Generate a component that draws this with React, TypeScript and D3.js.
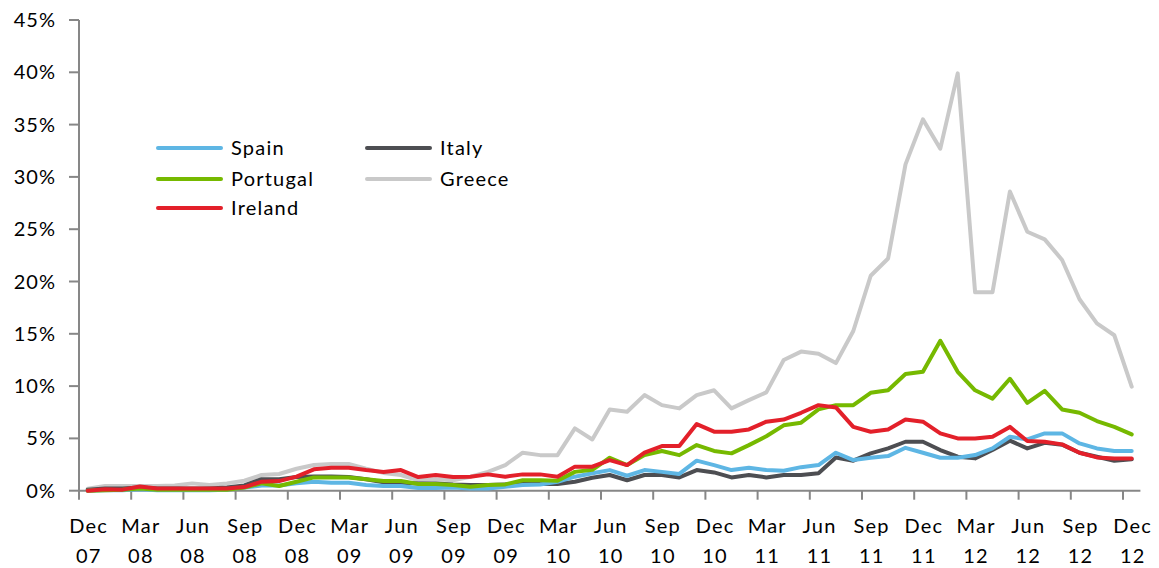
import React from "react";
import * as d3 from "d3";

const tickLabels = [
  ["Dec", "07"], ["Mar", "08"], ["Jun", "08"], ["Sep", "08"], ["Dec", "08"],
  ["Mar", "09"], ["Jun", "09"], ["Sep", "09"], ["Dec", "09"], ["Mar", "10"],
  ["Jun", "10"], ["Sep", "10"], ["Dec", "10"], ["Mar", "11"], ["Jun", "11"],
  ["Sep", "11"], ["Dec", "11"], ["Mar", "12"], ["Jun", "12"], ["Sep", "12"],
  ["Dec", "12"],
];

// monthly categories Dec 2007 .. Dec 2012
const categories = d3.timeMonth.range(new Date(2007, 11, 1), new Date(2013, 0, 1));

const spain = [
  0.0, 0.05, 0.05, 0.15, 0.05, 0.05, 0.05, 0.05, 0.1, 0.3,
  0.5, 0.5, 0.7, 0.85, 0.75, 0.75, 0.55, 0.45, 0.45, 0.25,
  0.25, 0.3, 0.22, 0.22, 0.38, 0.54, 0.6, 0.86, 1.34, 1.66,
  1.97, 1.43, 1.97, 1.8, 1.6, 2.87, 2.45, 1.97, 2.2, 1.97,
  1.9, 2.25, 2.45, 3.63, 2.93, 3.15, 3.31, 4.1, 3.63, 3.15,
  3.15, 3.41, 4.04, 5.16, 4.9, 5.48, 5.48, 4.52, 4.04, 3.79,
  3.79,
];
const italy = [
  0.1, 0.2, 0.2, 0.3, 0.2, 0.2, 0.2, 0.2, 0.3, 0.5,
  1.1, 1.1, 1.3, 1.35, 1.35, 1.3, 1.1, 0.8, 0.75, 0.7,
  0.7, 0.6, 0.55, 0.55, 0.6, 0.64, 0.64, 0.64, 0.86, 1.24,
  1.5, 1.0, 1.5, 1.5, 1.27, 1.97, 1.75, 1.27, 1.5, 1.27,
  1.5, 1.5, 1.66, 3.18, 2.87, 3.57, 4.04, 4.68, 4.68, 3.89,
  3.25, 3.09, 3.89, 4.78, 4.04, 4.58, 4.4, 3.63, 3.25, 2.87,
  3.0,
];
const portugal = [
  0.0, 0.05, 0.1, 0.2, 0.1, 0.1, 0.1, 0.1, 0.1, 0.3,
  0.7, 0.45, 0.85, 1.27, 1.27, 1.27, 1.1, 0.92, 0.92, 0.64,
  0.64, 0.55, 0.38, 0.54, 0.6, 1.0, 1.0, 0.96, 1.8, 2.0,
  3.15, 2.45, 3.4, 3.8, 3.4, 4.36, 3.8, 3.57, 4.36, 5.2,
  6.25, 6.5, 7.77, 8.18, 8.18, 9.36, 9.6, 11.15, 11.37, 14.33,
  11.37, 9.6, 8.8, 10.7, 8.4, 9.55, 7.77, 7.45, 6.66, 6.1,
  5.38,
];
const greece = [
  0.2, 0.45, 0.45, 0.45, 0.45, 0.5, 0.7, 0.55, 0.7, 0.95,
  1.5, 1.6, 2.1, 2.45, 2.55, 2.55, 2.1, 1.7, 1.5, 1.0,
  1.1, 1.0, 1.34, 1.8, 2.45, 3.63, 3.4, 3.4, 5.96, 4.9,
  7.77, 7.55, 9.14, 8.18, 7.87, 9.14, 9.6, 7.87, 8.66, 9.4,
  12.5, 13.3, 13.1, 12.2, 15.27, 20.55, 22.2, 31.2, 35.5, 32.7,
  39.9, 18.97, 18.97, 28.6, 24.76, 24.03, 22.06, 18.3, 16.0, 14.86,
  9.94,
];
const ireland = [
  0.0, 0.13, 0.1, 0.4, 0.2, 0.2, 0.2, 0.2, 0.2, 0.35,
  0.86, 0.92, 1.34, 2.04, 2.2, 2.2, 1.97, 1.78, 1.97, 1.3,
  1.5, 1.3, 1.34, 1.56, 1.34, 1.56, 1.56, 1.34, 2.3, 2.3,
  2.93, 2.45, 3.63, 4.27, 4.27, 6.37, 5.64, 5.64, 5.86, 6.6,
  6.8, 7.45, 8.18, 7.96, 6.1, 5.64, 5.86, 6.8, 6.6, 5.48,
  5.0, 5.0, 5.16, 6.1, 4.75, 4.68, 4.43, 3.63, 3.18, 3.09,
  3.09,
];

const yTicks = [0, 5, 10, 15, 20, 25, 30, 35, 40, 45];

const seriesNames = ["Spain", "Italy", "Portugal", "Greece", "Ireland"];
const seriesColors = ["#5eb6e4", "#4d4e52", "#76b900", "#c9c9c9", "#e3202a"];
const seriesValues = [spain, italy, portugal, greece, ireland];
// drawing order (bottom to top)
const drawOrder = ["Greece", "Italy", "Spain", "Portugal", "Ireland"];

const W = 1159;
const H = 568;
const left = 79;
const right = 1140.4;
const top = 20;
const bottom = 490.7;
const axisColor = "#878787";
const font = "Lato, 'Open Sans', sans-serif";

export default function App() {
  const idx = categories.map((_, i) => i);
  const x = d3.scalePoint<number>().domain(idx).range([left, right]).padding(0.5);
  const step = x.step();
  const y = d3.scaleLinear().domain([0, 45]).range([bottom, top]);
  const line = d3
    .line<number>()
    .x((_, i) => x(i) as number)
    .y((d) => y(d));

  const xTickPositions = d3.range(0, categories.length, 3).map((i) => left + i * step);

  const legendItems = [
    { name: "Spain", col: 0, row: 0 },
    { name: "Italy", col: 1, row: 0 },
    { name: "Portugal", col: 0, row: 1 },
    { name: "Greece", col: 1, row: 1 },
    { name: "Ireland", col: 0, row: 2 },
  ];
  const legendX = [158, 367];
  const legendY = [148, 179, 208];

  return (
    <svg
      width={W}
      height={H}
      style={{ position: "absolute", left: 0, top: 0, background: "#fff" }}
      fontFamily={font}
    >
      {/* y axis */}
      <line x1={left} x2={left} y1={top} y2={bottom} stroke={axisColor} strokeWidth={2} />
      {yTicks.map((t) => (
        <g key={t}>
          <line x1={left - 10} x2={left} y1={y(t)} y2={y(t)} stroke={axisColor} strokeWidth={2} />
          <text
            x={56}
            y={y(t)}
            dy="0.35em"
            textAnchor="end"
            fontSize={20}
            letterSpacing={1}
            fill="#000"
          >
            {t}%
          </text>
        </g>
      ))}
      {/* x axis */}
      <line x1={left} x2={right} y1={bottom} y2={bottom} stroke={axisColor} strokeWidth={2} />
      {xTickPositions.map((p, k) => (
        <line key={k} x1={p} x2={p} y1={bottom} y2={bottom + 9} stroke={axisColor} strokeWidth={2} />
      ))}
      {tickLabels.map((lab, k) => {
        const cx = x(k * 3) as number;
        return (
          <text key={k} textAnchor="middle" fontSize={20} letterSpacing={1.2} fill="#000">
            <tspan x={cx + 1} y={533}>{lab[0]}</tspan>
            <tspan x={cx + 1} y={563}>{lab[1]}</tspan>
          </text>
        );
      })}
      {/* series */}
      {drawOrder.map((name) => {
        const si = seriesNames.indexOf(name);
        return (
          <path
            key={name}
            d={line(seriesValues[si]) || ""}
            fill="none"
            stroke={seriesColors[si]}
            strokeWidth={4}
            strokeLinejoin="round"
            strokeLinecap="round"
          />
        );
      })}
      {/* legend */}
      {legendItems.map((it) => {
        const si = seriesNames.indexOf(it.name);
        const lx = legendX[it.col];
        const ly = legendY[it.row];
        return (
          <g key={it.name}>
            <line
              x1={lx}
              x2={lx + 63}
              y1={ly}
              y2={ly}
              stroke={seriesColors[si]}
              strokeWidth={4}
              strokeLinecap="round"
            />
            <text x={lx + 73} y={ly} dy="0.35em" fontSize={20} letterSpacing={1.2} fill="#000">
              {it.name}
            </text>
          </g>
        );
      })}
    </svg>
  );
}
